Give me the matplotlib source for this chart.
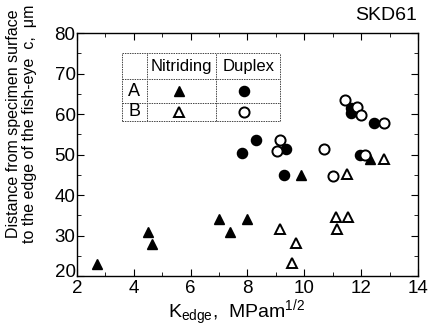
import matplotlib.pyplot as plt
import matplotlib.transforms as mtransforms
from matplotlib.ticker import MultipleLocator

plt.rcParams['font.family'] = ['Liberation Sans', 'DejaVu Sans']
plt.rcParams['mathtext.fontset'] = 'custom'
plt.rcParams['mathtext.rm'] = 'Liberation Sans'
plt.rcParams['mathtext.it'] = 'Liberation Sans'

# K_edge (MPa m^1/2) and distance c (um) for each series
nit_a_k = [2.7, 4.5, 4.65, 7.0, 7.4, 8.0, 9.9, 12.3]
nit_a_c = [23, 31, 28, 34, 31, 34, 45, 48.8]

nit_b_k = [12.8, 11.5, 9.15, 9.7, 9.55, 11.1, 11.55, 11.15]
nit_b_c = [49, 45.2, 31.5, 28.2, 23.3, 34.5, 34.5, 31.5]

dup_a_k = [7.8, 8.3, 9.35, 9.3, 11.65, 11.65, 12.45, 11.95]
dup_a_c = [50.5, 53.5, 51.5, 45, 60.3, 61.5, 57.8, 49.8]

dup_b_k = [11.45, 11.85, 12.0, 12.8, 9.15, 9.05, 10.7, 11.0, 12.15]
dup_b_c = [63.5, 61.8, 59.7, 57.8, 53.5, 50.8, 51.5, 44.8, 49.8]

fig = plt.figure(figsize=(4.3, 3.35), dpi=100)
ax = fig.add_axes([0.179, 0.176, 0.793, 0.725])

ms = 7.3
ax.plot(nit_a_k, nit_a_c, '^', ms=ms, color='black', zorder=3)
ax.plot(nit_b_k, nit_b_c, '^', ms=ms, mfc='white', mec='black', mew=1.4, zorder=3)
ax.plot(dup_a_k, dup_a_c, 'o', ms=ms, color='black', zorder=3)
ax.plot(dup_b_k, dup_b_c, 'o', ms=ms, mfc='white', mec='black', mew=1.4, zorder=4)

ax.set_xlim(2, 14)
ax.set_ylim(20, 80)
ax.xaxis.set_major_locator(MultipleLocator(2))
ax.xaxis.set_minor_locator(MultipleLocator(1))
ax.yaxis.set_major_locator(MultipleLocator(10))
ax.yaxis.set_minor_locator(MultipleLocator(5))
ax.tick_params(which='both', direction='in', top=True, right=True, labelsize=13.5)
ax.tick_params(axis='x', pad=3)
ax.tick_params(axis='y', pad=1)
ax.tick_params(which='major', length=5)
ax.tick_params(which='minor', length=3)
for s in ax.spines.values():
    s.set_linewidth(1.0)

fig.text(0.55, 0.05, r'K$_{\rm edge}$,  MPam$^{1/2}$', ha='center', va='baseline', fontsize=14)
fig.text(0.05, 0.63, 'Distance from specimen surface\nto the edge of the fish-eye  c,  \u03bcm',
         rotation=90, ha='center', va='center', fontsize=11.5, linespacing=1.05)
fig.text(0.97, 0.955, 'SKD61', ha='right', va='center', fontsize=14)

# symbol table
xs = [3.57, 4.45, 6.91, 9.16]
ys = [75.0, 68.6, 62.8, 58.3]
ls = dict(color='#444444', lw=0.7, ls=(0, (1.5, 1)))
for x in xs:
    ax.plot([x, x], [ys[-1], ys[0]], **ls)
for y in ys:
    ax.plot([xs[0], xs[-1]], [y, y], **ls)
cx = [(xs[i] + xs[i + 1]) / 2 for i in range(3)]
cy = [(ys[i] + ys[i + 1]) / 2 for i in range(3)]
ax.text(cx[1], cy[0], 'Nitriding', ha='center', va='center', fontsize=12)
ax.text(cx[2], cy[0], 'Duplex', ha='center', va='center', fontsize=12)
ax.text(cx[0], cy[1], 'A', ha='center', va='center', fontsize=13)
ax.text(cx[0], cy[2], 'B', ha='center', va='center', fontsize=13)
ax.plot(cx[1] - 0.1, cy[1], '^', ms=ms, color='black')
ax.plot(cx[2] - 0.15, cy[1], 'o', ms=ms, color='black')
ax.plot(cx[1] - 0.1, cy[2], '^', ms=ms, mfc='white', mec='black', mew=1.4)
ax.plot(cx[2] - 0.15, cy[2], 'o', ms=ms, mfc='white', mec='black', mew=1.4)

# lift the "20" label a little so it clears the "2" below it
fig.canvas.draw()
lift = mtransforms.ScaledTranslation(0, 4 / 72, fig.dpi_scale_trans)
for t in ax.yaxis.get_major_ticks():
    if t.label1.get_text() == '20':
        t.label1.set_transform(t.label1.get_transform() + lift)

fig.savefig('out.png', dpi=100)
